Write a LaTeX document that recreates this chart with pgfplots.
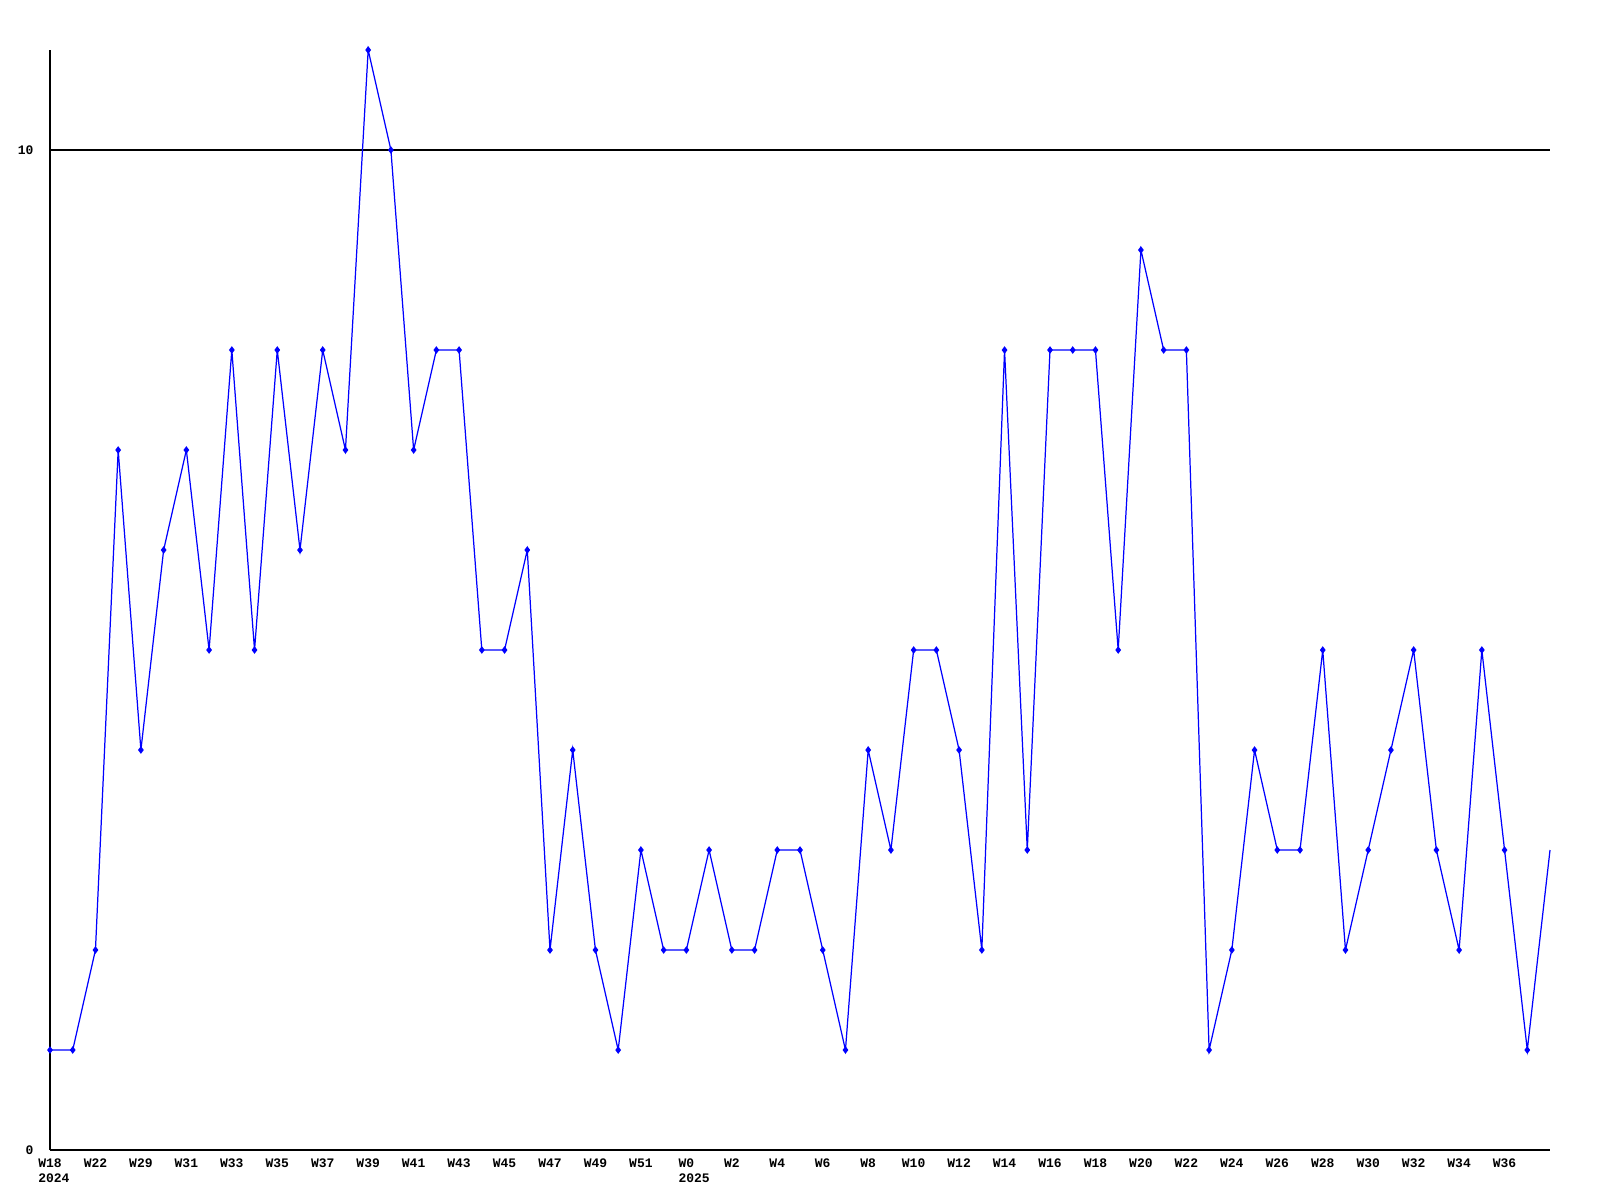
\documentclass[border=0pt]{standalone}
\usepackage{pgfplots}
\pgfplotsset{compat=1.18}
\usepackage{fontspec}
\setmainfont{Liberation Mono}
\pgfplotstableread{
x y
0 1
1 1
2 2
3 7
4 4
5 6
6 7
7 5
8 8
9 5
10 8
11 6
12 8
13 7
14 11
15 10
16 7
17 8
18 8
19 5
20 5
21 6
22 2
23 4
24 2
25 1
26 3
27 2
28 2
29 3
30 2
31 2
32 3
33 3
34 2
35 1
36 4
37 3
38 5
39 5
40 4
41 2
42 8
43 3
44 8
45 8
46 8
47 5
48 9
49 8
50 8
51 1
52 2
53 4
54 3
55 3
56 5
57 2
58 3
59 4
60 5
61 3
62 2
63 5
64 3
65 1
66 3
}\datatable
\begin{document}
\begin{tikzpicture}
\useasboundingbox (0,0) rectangle (16cm,12cm);
\begin{axis}[
  at={(0.5cm,0.5cm)}, anchor=south west,
  width=15cm, height=11cm, scale only axis,
  xmin=0, xmax=66, ymin=0, ymax=11,
  axis x line*=bottom, axis y line*=left,
  axis line style={black, line width=0.35pt, -},
  xtick={0,2,...,64},
  xticklabels={{W18\\\rlap{2024}\phantom{W18}},W22,W29,W31,W33,W35,W37,W39,W41,W43,W45,W47,W49,W51,{W0\\\rlap{2025}\phantom{W0}},W2,W4,W6,W8,W10,W12,W14,W16,W18,W20,W22,W24,W26,W28,W30,W32,W34,W36},
  ytick={0,10},
  major tick length=0pt,
  ymajorgrids, grid style={black, line width=0.35pt},
  tick label style={font=\fontsize{3.7}{4.3}\selectfont\bfseries},
  xticklabel style={align=center, anchor=north, yshift=1pt},
  yticklabel style={anchor=east, xshift=-1.2pt},
  /pgf/number format/assume math mode=true,
  clip=false,
]
\addplot[blue, line width=0.35pt, mark=diamond*, mark size=0.8pt, mark indices={1,...,66}, mark options={solid, fill=blue}] table[x=x,y=y] {\datatable};
\end{axis}
\end{tikzpicture}
\end{document}
